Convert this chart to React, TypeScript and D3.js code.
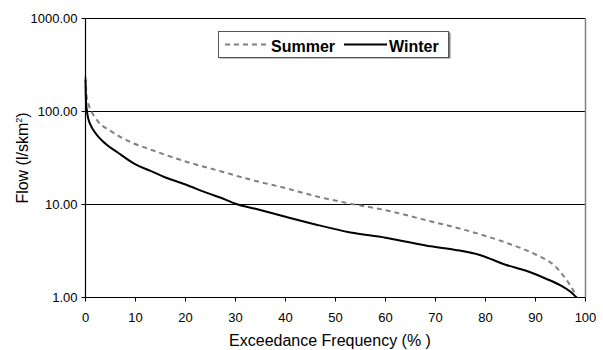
import React from "react";
import * as d3 from "d3";

const xTicks = [0, 10, 20, 30, 40, 50, 60, 70, 80, 90, 100];
const yTicks = [1, 10, 100, 1000];

const winterP = [0, 0.1, 0.3, 0.6, 1, 1.5, 2.5, 4, 6.5, 10, 13, 16, 20, 24, 28, 30, 34, 40, 46, 53, 60, 65, 69, 74, 79, 84, 88, 92, 95, 97, 98.2];
const winterV = [221, 130, 100, 82, 72, 64, 54, 45, 36, 27, 23, 19.5, 16.4, 13.5, 11.3, 10.2, 9.0, 7.4, 6.1, 5.0, 4.4, 3.9, 3.55, 3.25, 2.85, 2.25, 1.95, 1.6, 1.35, 1.15, 1.0];

const summerP = [0, 0.2, 0.6, 1.2, 2, 3, 4.6, 6.5, 8.6, 13, 20, 27, 33, 40, 46, 53, 60, 68, 76, 84, 90, 94, 96, 97.5, 98.2];
const summerV = [238, 150, 120, 100, 85, 73, 64, 55, 48, 39, 29, 22.8, 18.5, 15, 12.3, 10.2, 8.7, 6.8, 5.3, 3.9, 2.9, 2.15, 1.6, 1.2, 1.0];

const FONT = "'Liberation Sans', Arial, sans-serif";

export default function App() {
  const left = 85.5, right = 585.5, top = 18.5, bottom = 297.5;
  const x = d3.scaleLinear().domain([0, 100]).range([left, right]);
  const y = d3.scaleLog().domain([1, 1000]).range([bottom, top]);
  const line = d3
    .line<[number, number]>()
    .x((d) => x(d[0]))
    .y((d) => y(d[1]))
    .curve(d3.curveMonotoneX);
  const winter = winterP.map((p, i) => [p, winterV[i]] as [number, number]);
  const summer = summerP.map((p, i) => [p, summerV[i]] as [number, number]);

  return (
    <svg
      width={603}
      height={350}
      style={{ position: "absolute", left: 0, top: 0, background: "#fff" }}
      fontFamily={FONT}
    >
      {/* gridlines */}
      {yTicks.filter((t) => t > 1).map((t) => (
        <line key={"g" + t} x1={left} x2={right} y1={y(t)} y2={y(t)} stroke="#000" strokeWidth={1} />
      ))}
      {/* right border */}
      <line x1={right} x2={right} y1={top} y2={bottom} stroke="#808080" strokeWidth={1.5} />
      {/* series */}
      <path d={line(summer) || ""} fill="none" stroke="#808080" strokeWidth={2} strokeDasharray="5,4" />
      <path d={line(winter) || ""} fill="none" stroke="#000" strokeWidth={2} />
      {/* axes */}
      <line x1={left} x2={left} y1={top} y2={bottom} stroke="#000" strokeWidth={1.2} />
      <line x1={left} x2={right} y1={bottom} y2={bottom} stroke="#000" strokeWidth={1.2} />
      {yTicks.map((t) => (
        <g key={"y" + t}>
          <line x1={left - 4} x2={left} y1={y(t)} y2={y(t)} stroke="#000" />
          <text x={left - 8} y={y(t)} dy="0.36em" textAnchor="end" fontSize={13}>
            {t.toFixed(2)}
          </text>
        </g>
      ))}
      {xTicks.map((t) => (
        <g key={"x" + t}>
          <line x1={x(t)} x2={x(t)} y1={bottom} y2={bottom + 4} stroke="#000" />
          <text x={x(t)} y={322} textAnchor="middle" fontSize={13}>
            {t}
          </text>
        </g>
      ))}
      <text x={330} y={346} textAnchor="middle" fontSize={16}>
        Exceedance Frequency (% )
      </text>
      <text transform={`translate(28,${(top + bottom) / 2}) rotate(-90)`} textAnchor="middle" fontSize={16}>
        Flow (l/skm<tspan dy="-6" fontSize={9}>2</tspan><tspan dy="6">)</tspan>
      </text>
      {/* legend */}
      <rect x={219.5} y={32.5} width={231} height={26} fill="#808080" />
      <rect x={218.5} y={31.5} width={230} height={26} fill="#fff" stroke="#555" strokeWidth={1} />
      <line x1={225} x2={268} y1={44.5} y2={44.5} stroke="#808080" strokeWidth={2} strokeDasharray="5,4" />
      <text x={271} y={52} fontSize={16} fontWeight="bold">Summer</text>
      <line x1={344} x2={387} y1={44.5} y2={44.5} stroke="#000" strokeWidth={2} />
      <text x={389} y={52} fontSize={16} fontWeight="bold">Winter</text>
    </svg>
  );
}
